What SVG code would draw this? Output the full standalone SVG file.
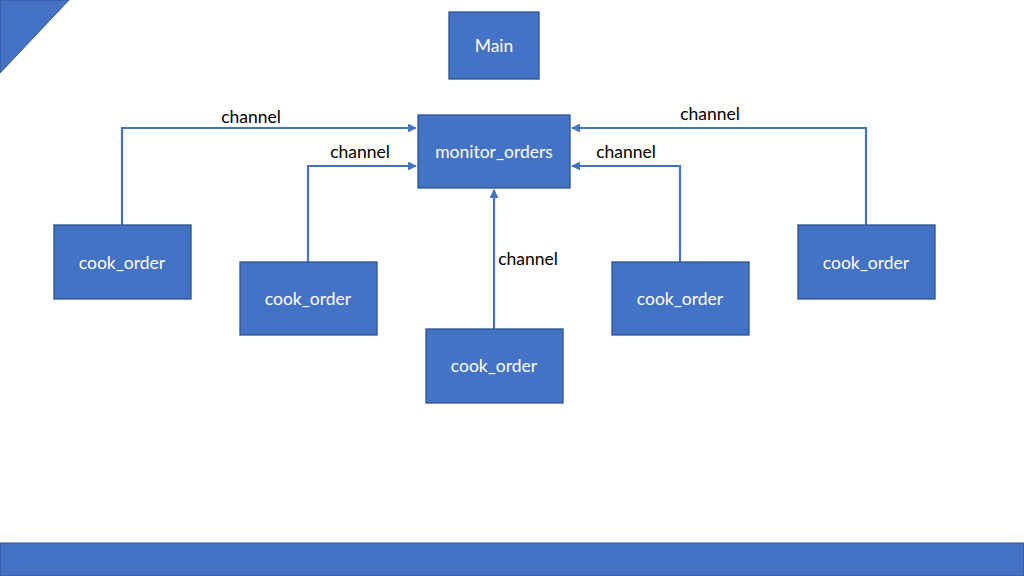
<svg xmlns="http://www.w3.org/2000/svg" width="1024" height="576" viewBox="0 0 1024 576">
<style>
.box{fill:#4472C4;stroke:#2F528F;stroke-width:1.3}
.lbl{font-family:Lato,"Open Sans","Liberation Sans",sans-serif;font-size:17.5px;fill:#FFFFFF;text-anchor:middle}
.ch{font-family:Lato,"Open Sans","Liberation Sans",sans-serif;font-size:17.5px;fill:#000000;text-anchor:middle}
.conn{fill:none;stroke:#4472C4;stroke-width:2.2}
</style>
<defs>
<marker id="arr" viewBox="0 0 10 10" refX="9" refY="5" markerWidth="4" markerHeight="4" orient="auto" markerUnits="strokeWidth">
<path d="M0,0 L10,5 L0,10 z" fill="#4472C4"/>
</marker>
</defs>
<rect width="1024" height="576" fill="#FFFFFF"/>
<polygon points="0,0 69,0 0,73" fill="#4472C4" stroke="#2F528F" stroke-width="1"/>
<rect x="0" y="543" width="1024" height="33" fill="#4472C4" stroke="#2F528F" stroke-width="1"/>
<g id="connectors">
<polyline class="conn" points="122,225 122,128 416,128" marker-end="url(#arr)"/>
<polyline class="conn" points="308,262 308,166 416,166" marker-end="url(#arr)"/>
<polyline class="conn" points="494,329 494,190" marker-end="url(#arr)"/>
<polyline class="conn" points="680,262 680,166 572,166" marker-end="url(#arr)"/>
<polyline class="conn" points="866,225 866,128 572,128" marker-end="url(#arr)"/>
<text class="ch" x="251" y="123">channel</text>
<text class="ch" x="360" y="158">channel</text>
<text class="ch" x="626" y="158">channel</text>
<text class="ch" x="710" y="120">channel</text>
<text class="ch" x="528" y="265">channel</text>
</g>
<g id="main"><rect class="box" x="449" y="12" width="90" height="67"/><text class="lbl" x="494" y="52">Main</text></g>
<g id="monitor_orders"><rect class="box" x="418" y="115" width="152" height="73"/><text class="lbl" x="494" y="158">monitor_orders</text></g>
<g id="cook1"><rect class="box" x="54" y="225" width="137" height="74"/><text class="lbl" x="122" y="269">cook_order</text></g>
<g id="cook2"><rect class="box" x="240" y="262" width="137" height="73"/><text class="lbl" x="308" y="305">cook_order</text></g>
<g id="cook3"><rect class="box" x="426" y="329" width="137" height="74"/><text class="lbl" x="494" y="372">cook_order</text></g>
<g id="cook4"><rect class="box" x="612" y="262" width="137" height="73"/><text class="lbl" x="680" y="305">cook_order</text></g>
<g id="cook5"><rect class="box" x="798" y="225" width="137" height="74"/><text class="lbl" x="866" y="269">cook_order</text></g>
</svg>
